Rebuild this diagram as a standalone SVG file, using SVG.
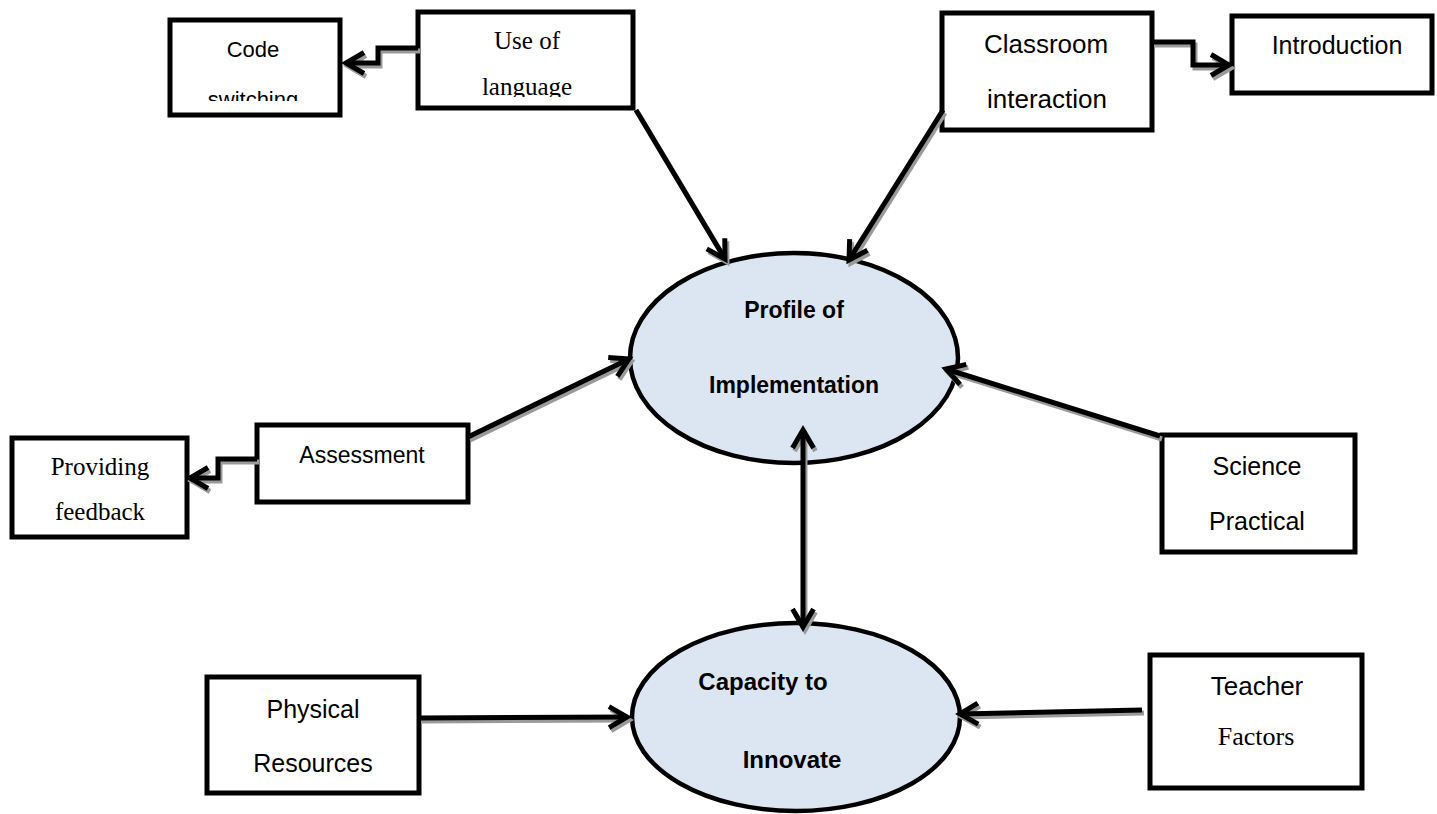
<svg xmlns="http://www.w3.org/2000/svg" width="1437" height="814" viewBox="0 0 1437 814">
<style>
.box{fill:#fff;stroke:#000;stroke-width:5}
.ell{fill:#dce6f2;stroke:#000;stroke-width:4.5}
.sans{font-family:"Liberation Sans",Arial,sans-serif;fill:#000}
.serif{font-family:"Liberation Serif","Times New Roman",serif;fill:#000}
.bold{font-family:"Liberation Sans",Arial,sans-serif;font-weight:bold;fill:#000}
.c{stroke:#000;stroke-width:5;fill:none;marker-end:url(#ah)}
.s{stroke:#9a9a9a;stroke-width:5;fill:none;marker-end:url(#ahs)}
</style>
<defs>
<marker id="ah" markerUnits="userSpaceOnUse" orient="auto-start-reverse" markerWidth="40" markerHeight="40" refX="0" refY="0" viewBox="-25 -20 40 40" overflow="visible">
<path d="M-18,-10.5 L0,0 L-18,10.5" fill="none" stroke="#000" stroke-width="5"/>
</marker>
<marker id="ahs" markerUnits="userSpaceOnUse" orient="auto-start-reverse" markerWidth="40" markerHeight="40" refX="0" refY="0" viewBox="-25 -20 40 40" overflow="visible">
<path d="M-18,-10.5 L0,0 L-18,10.5" fill="none" stroke="#9a9a9a" stroke-width="5"/>
</marker>
<clipPath id="clipCode"><rect x="170" y="20" width="170" height="81"/></clipPath>
<clipPath id="clipLang"><rect x="420" y="14" width="211" height="83"/></clipPath>
</defs>

<g id="code-switching">
<rect class="box" x="170" y="20" width="170" height="95"/>
<text class="sans" x="253" y="57" font-size="22" text-anchor="middle">Code</text>
<text class="sans" x="253" y="107" font-size="22" text-anchor="middle" clip-path="url(#clipCode)">switching</text>
</g>

<g id="use-of-language">
<rect class="box" x="418" y="12" width="215" height="96"/>
<text class="serif" x="527" y="49" font-size="25" text-anchor="middle">Use of</text>
<text class="serif" x="527" y="95" font-size="25" text-anchor="middle" clip-path="url(#clipLang)">language</text>
</g>

<g id="classroom-interaction">
<rect class="box" x="942" y="13" width="210" height="117"/>
<text class="sans" x="1046" y="53" font-size="26" text-anchor="middle">Classroom</text>
<text class="sans" x="1047" y="108" font-size="26" text-anchor="middle">interaction</text>
</g>

<g id="introduction">
<rect class="box" x="1232" y="16" width="200" height="77"/>
<text class="sans" x="1337" y="54" font-size="25" text-anchor="middle">Introduction</text>
</g>

<g id="profile-of-implementation">
<ellipse class="ell" cx="794" cy="358" rx="164" ry="105"/>
<text class="bold" x="794" y="318" font-size="23" text-anchor="middle">Profile of</text>
<text class="bold" x="794" y="393" font-size="23" text-anchor="middle">Implementation</text>
</g>

<g id="assessment">
<rect class="box" x="257" y="425" width="211" height="77"/>
<text class="sans" x="362" y="463" font-size="23" text-anchor="middle">Assessment</text>
</g>

<g id="providing-feedback">
<rect class="box" x="12" y="438" width="175" height="99"/>
<text class="serif" x="100" y="475" font-size="25" text-anchor="middle">Providing</text>
<text class="serif" x="100" y="520" font-size="25" text-anchor="middle">feedback</text>
</g>

<g id="science-practical">
<rect class="box" x="1162" y="435" width="193" height="117"/>
<text class="sans" x="1257" y="475" font-size="25" text-anchor="middle">Science</text>
<text class="sans" x="1257" y="530" font-size="25" text-anchor="middle">Practical</text>
</g>

<g id="capacity-to-innovate">
<ellipse class="ell" cx="796" cy="717" rx="164" ry="94"/>
<text class="bold" x="763" y="690" font-size="24" text-anchor="middle">Capacity to</text>
<text class="bold" x="792" y="768" font-size="24" text-anchor="middle">Innovate</text>
</g>

<g id="physical-resources">
<rect class="box" x="207" y="677" width="212" height="116"/>
<text class="sans" x="313" y="718" font-size="25" text-anchor="middle">Physical</text>
<text class="sans" x="313" y="772" font-size="25" text-anchor="middle">Resources</text>
</g>

<g id="teacher-factors">
<rect class="box" x="1150" y="655" width="212" height="133"/>
<text class="sans" x="1257" y="695" font-size="26" text-anchor="middle">Teacher</text>
<text class="serif" x="1256" y="745" font-size="26" text-anchor="middle">Factors</text>
</g>

<g id="connectors">
<g id="shadows" transform="translate(2,3)">
<path class="s" d="M418,48 L378,48 L378,63 L346,63"/>
<path class="s" d="M1152,42 L1193,42 L1193,65 L1229,65"/>
<path class="s" d="M257,459 L218,459 L218,478 L190,478"/>
<path class="s" d="M636,110 L725,259"/>
<path class="s" d="M943,110 L849,260"/>
<path class="s" d="M468,437 L629,359"/>
<path class="s" d="M1160,436 L946,369"/>
<path class="s" d="M803,627 L803,430" style="marker-start:url(#ahs)"/>
<path class="s" d="M419,718 L627,717"/>
<path class="s" d="M1142,710 L960,714"/>
</g>
<path class="c" d="M418,48 L378,48 L378,63 L346,63"/>
<path class="c" d="M1152,42 L1193,42 L1193,65 L1229,65"/>
<path class="c" d="M257,459 L218,459 L218,478 L190,478"/>
<path class="c" d="M636,110 L725,259"/>
<path class="c" d="M943,110 L849,260"/>
<path class="c" d="M468,437 L629,359"/>
<path class="c" d="M1160,436 L946,369"/>
<path class="c" d="M803,627 L803,430" style="marker-start:url(#ah)"/>
<path class="c" d="M419,718 L627,717"/>
<path class="c" d="M1142,710 L960,714"/>
</g>
</svg>
